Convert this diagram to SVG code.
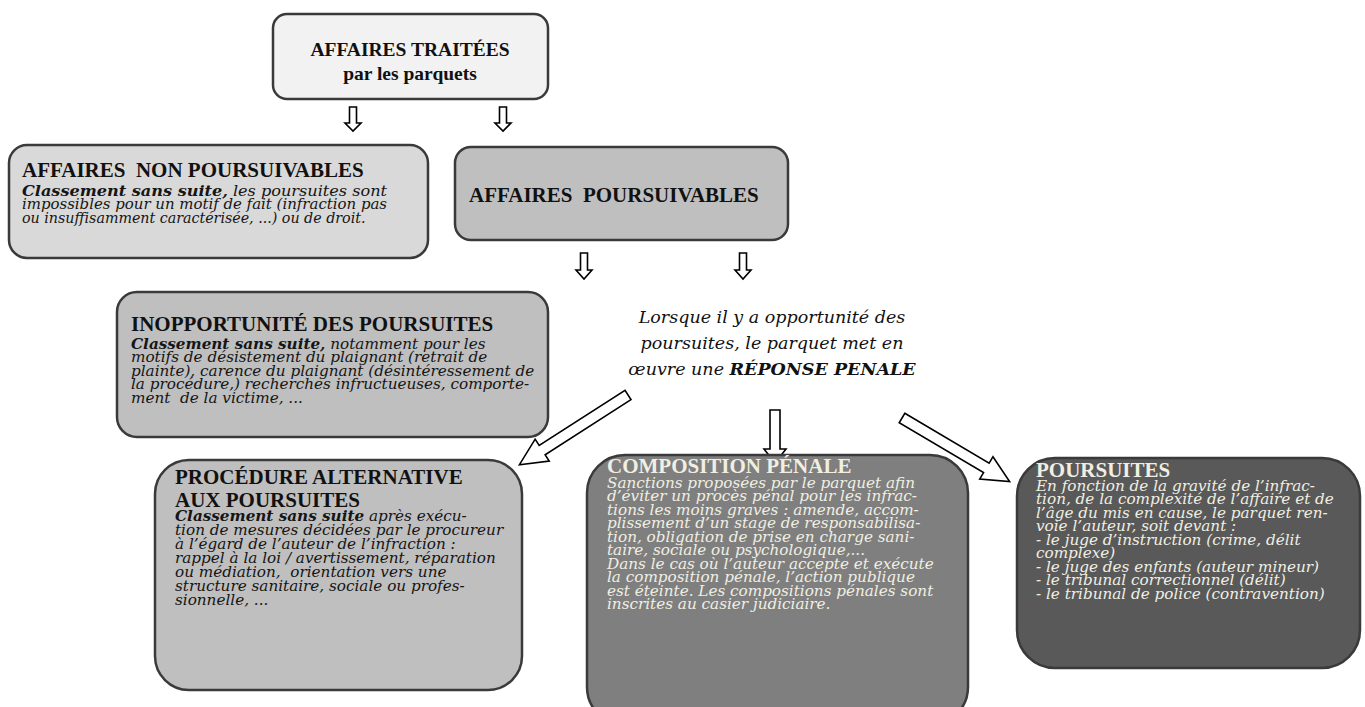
<svg xmlns="http://www.w3.org/2000/svg" width="1365" height="707" viewBox="0 0 1365 707">
<style>
.box{stroke:#3a3a3a;stroke-width:2.5}
.t{font-family:"Liberation Serif",serif;font-weight:bold;font-size:21px;fill:#111}
.tt{font-size:19.5px}
.b{font-family:"DejaVu Serif",serif;font-style:italic;font-size:14.1px;fill:#151515}
.m{font-family:"DejaVu Serif",serif;font-style:italic;font-size:17.5px;fill:#111}
.bb{font-weight:bold}
.lt{fill:#f0efe2}
.arr{fill:#fff;stroke:#000;stroke-width:1.6;stroke-linejoin:miter}
</style>
<rect width="1365" height="707" fill="#fff"/>
<g id="connectors">
<polygon class="arr" points="349.5,107 356.5,107 356.5,123 361,123 353,131 345,123 349.5,123"/>
<polygon class="arr" points="499.5,107 506.5,107 506.5,123 511,123 503,131 495,123 499.5,123"/>
<polygon class="arr" points="580.5,253 587.5,253 587.5,270 592,270 584,279 576,270 580.5,270"/>
<polygon class="arr" points="739.5,253 746.5,253 746.5,270 751,270 743,279 735,270 739.5,270"/>
<polygon class="arr" points="770,410 780,410 780,449 786,449 775,463 764,449 770,449"/>
<polygon class="arr" transform="translate(628,395) rotate(147.3)" points="0,-5.5 102,-5.5 102,-13 129,0 102,13 102,5.5 0,5.5"/>
<polygon class="arr" transform="translate(902,418) rotate(30.6)" points="0,-5.5 98,-5.5 98,-13 125,0 98,13 98,5.5 0,5.5"/>
</g>
<g id="affaires-traitees">
<rect class="box" x="273" y="14" width="275" height="85" rx="14" fill="#f2f2f2"/>
<text class="t tt" x="410" y="56" text-anchor="middle">AFFAIRES TRAITÉES</text>
<text class="t tt" x="410" y="80" text-anchor="middle">par les parquets</text>
</g>
<g id="non-poursuivables">
<rect class="box" x="9" y="145" width="419" height="113" rx="18" fill="#d9d9d9"/>
<text class="t" x="22" y="177" xml:space="preserve">AFFAIRES  NON POURSUIVABLES</text>
<g transform="translate(22,0) scale(1.08,1)">
<text class="b" x="0" y="196" textLength="338" lengthAdjust="spacingAndGlyphs"><tspan class="bb">Classement sans suite,</tspan> les poursuites sont</text>
<text class="b" x="0" y="209.5" textLength="338" lengthAdjust="spacingAndGlyphs">impossibles pour un motif de fait (infraction pas</text>
<text class="b" x="0" y="223" textLength="318" lengthAdjust="spacingAndGlyphs">ou insuffisamment caractérisée, ...) ou de droit.</text>
</g>
</g>
<g id="poursuivables">
<rect class="box" x="455" y="147" width="333" height="93" rx="16" fill="#bfbfbf"/>
<text class="t" x="469" y="202" xml:space="preserve">AFFAIRES  POURSUIVABLES</text>
</g>
<g id="inopportunite">
<rect class="box" x="117" y="292" width="431" height="145" rx="20" fill="#bfbfbf"/>
<text class="t" x="131" y="331">INOPPORTUNITÉ DES POURSUITES</text>
<g transform="translate(131,0) scale(1.08,1)">
<text class="b" x="0" y="349"><tspan class="bb">Classement sans suite,</tspan> notamment pour les</text>
<text class="b" x="0" y="362.5">motifs de désistement du plaignant (retrait de</text>
<text class="b" x="0" y="376">plainte), carence du plaignant (désintéressement de</text>
<text class="b" x="0" y="389.5">la procédure,) recherches infructueuses, comporte-</text>
<text class="b" x="0" y="403" xml:space="preserve">ment  de la victime, ...</text>
</g>
</g>
<g id="reponse-penale">
<text class="m" x="772" y="323" text-anchor="middle">Lorsque il y a opportunité des</text>
<text class="m" x="772" y="349" text-anchor="middle">poursuites, le parquet met en</text>
<text class="m" x="772" y="375" text-anchor="middle">œuvre une <tspan class="bb">RÉPONSE PENALE</tspan></text>
</g>
<g id="procedure-alternative">
<rect class="box" x="155" y="460" width="367" height="230" rx="34" fill="#bfbfbf"/>
<text class="t" x="175" y="484">PROCÉDURE ALTERNATIVE</text>
<text class="t" x="175" y="507">AUX POURSUITES</text>
<g transform="translate(175,0) scale(1.08,1)">
<text class="b" x="0" y="521"><tspan class="bb">Classement sans suite</tspan> après exécu-</text>
<text class="b" x="0" y="535">tion de mesures décidées par le procureur</text>
<text class="b" x="0" y="549">à l’égard de l’auteur de l’infraction :</text>
<text class="b" x="0" y="563">rappel à la loi / avertissement, réparation</text>
<text class="b" x="0" y="577" xml:space="preserve">ou médiation,  orientation vers une</text>
<text class="b" x="0" y="591">structure sanitaire, sociale ou profes-</text>
<text class="b" x="0" y="605">sionnelle, ...</text>
</g>
</g>
<g id="composition-penale">
<rect class="box" x="587" y="455" width="381" height="270" rx="38" fill="#7f7f7f"/>
<text class="t lt" x="607" y="473">COMPOSITION PÉNALE</text>
<g transform="translate(607,0) scale(1.08,1)">
<text class="b lt" x="0" y="488">Sanctions proposées par le parquet afin</text>
<text class="b lt" x="0" y="501.5">d’éviter un procès pénal pour les infrac-</text>
<text class="b lt" x="0" y="515">tions les moins graves : amende, accom-</text>
<text class="b lt" x="0" y="528.5">plissement d’un stage de responsabilisa-</text>
<text class="b lt" x="0" y="542">tion, obligation de prise en charge sani-</text>
<text class="b lt" x="0" y="555.5">taire, sociale ou psychologique,...</text>
<text class="b lt" x="0" y="569">Dans le cas où l’auteur accepte et exécute</text>
<text class="b lt" x="0" y="582.5">la composition pénale, l’action publique</text>
<text class="b lt" x="0" y="596">est éteinte. Les compositions pénales sont</text>
<text class="b lt" x="0" y="609.5">inscrites au casier judiciaire.</text>
</g>
</g>
<g id="poursuites">
<rect class="box" x="1017" y="458" width="343" height="210" rx="38" fill="#595959"/>
<text class="t lt" x="1036" y="477">POURSUITES</text>
<g transform="translate(1036,0) scale(1.08,1)">
<text class="b lt" x="0" y="491">En fonction de la gravité de l’infrac-</text>
<text class="b lt" x="0" y="504.5">tion, de la complexité de l’affaire et de</text>
<text class="b lt" x="0" y="518">l’âge du mis en cause, le parquet ren-</text>
<text class="b lt" x="0" y="531.5">voie l’auteur, soit devant :</text>
<text class="b lt" x="0" y="545">- le juge d’instruction (crime, délit</text>
<text class="b lt" x="0" y="558.5">complexe)</text>
<text class="b lt" x="0" y="572">- le juge des enfants (auteur mineur)</text>
<text class="b lt" x="0" y="585.5">- le tribunal correctionnel (délit)</text>
<text class="b lt" x="0" y="599">- le tribunal de police (contravention)</text>
</g>
</g>
</svg>
